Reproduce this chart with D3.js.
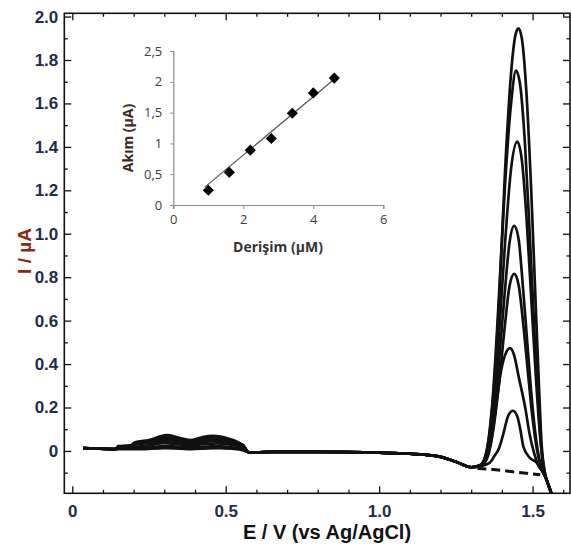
<!DOCTYPE html>
<html>
<head>
<meta charset="utf-8">
<script src="https://d3js.org/d3.v7.min.js"></script>
<style>
body { margin: 0; background: #fff; }
text { font-family: "Liberation Sans", Arial, sans-serif; }
</style>
</head>
<body>
<div id="chart"></div>
<script>
// ---- main voltammograms: E (V) vs I (uA) ----
var startSeg = [[0.036, 0.013], [0.09, 0.011], [0.14, 0.008]];

// hump region 0.15 - 0.58 V, one list per curve
var bumpSeg = [
  [[0.15,0.022],[0.19,0.026],[0.205,0.04],[0.25,0.05],[0.308,0.073],[0.345,0.062],[0.384,0.05],[0.42,0.062],[0.46,0.069],[0.50,0.06],[0.54,0.04],[0.557,0.027],[0.575,-0.006]],
  [[0.15,0.02],[0.19,0.024],[0.205,0.037],[0.25,0.046],[0.305,0.063],[0.345,0.055],[0.384,0.045],[0.42,0.055],[0.465,0.061],[0.50,0.054],[0.54,0.036],[0.557,0.025],[0.575,-0.006]],
  [[0.15,0.018],[0.19,0.022],[0.205,0.033],[0.25,0.041],[0.305,0.055],[0.345,0.048],[0.384,0.04],[0.42,0.048],[0.46,0.053],[0.50,0.047],[0.54,0.032],[0.557,0.022],[0.575,-0.006]],
  [[0.15,0.016],[0.19,0.02],[0.21,0.03],[0.25,0.036],[0.305,0.046],[0.345,0.04],[0.384,0.034],[0.42,0.04],[0.46,0.045],[0.50,0.04],[0.54,0.028],[0.557,0.02],[0.575,-0.006]],
  [[0.15,0.013],[0.2,0.018],[0.25,0.026],[0.30,0.036],[0.345,0.031],[0.384,0.026],[0.43,0.032],[0.47,0.035],[0.51,0.03],[0.54,0.022],[0.557,0.015],[0.575,-0.006]],
  [[0.15,0.01],[0.2,0.012],[0.25,0.016],[0.30,0.022],[0.345,0.02],[0.384,0.016],[0.43,0.02],[0.47,0.022],[0.51,0.018],[0.55,0.01],[0.575,-0.006]],
  [[0.15,0.008],[0.22,0.008],[0.30,0.013],[0.35,0.011],[0.39,0.008],[0.44,0.012],[0.48,0.013],[0.52,0.01],[0.555,0.004],[0.575,-0.006]]
];

var midSeg = [[0.6,-0.007],[0.65,-0.004],[0.8,-0.004],[1.0,-0.008],[1.1,-0.013],[1.17,-0.02],[1.2,-0.027],[1.25,-0.05]];

// oxidation peaks, one list per curve
var peakSeg = [
  [[1.30,-0.075],[1.33,-0.065],[1.35,-0.005],[1.37,0.22],[1.39,0.66],[1.41,1.28],[1.43,1.74],[1.445,1.92],[1.454,1.946],[1.465,1.90],[1.48,1.65],[1.495,1.22],[1.51,0.68],[1.52,0.33],[1.53,0.02],[1.54,-0.10],[1.55,-0.15],[1.565,-0.21]],
  [[1.30,-0.075],[1.33,-0.065],[1.35,0.0],[1.37,0.24],[1.39,0.70],[1.41,1.22],[1.43,1.60],[1.446,1.751],[1.46,1.68],[1.475,1.42],[1.49,1.02],[1.505,0.58],[1.52,0.18],[1.535,-0.08],[1.55,-0.15],[1.565,-0.21]],
  [[1.30,-0.075],[1.33,-0.066],[1.35,-0.01],[1.37,0.18],[1.39,0.52],[1.41,0.95],[1.43,1.30],[1.45,1.424],[1.465,1.34],[1.48,1.08],[1.495,0.72],[1.51,0.36],[1.525,0.06],[1.54,-0.10],[1.55,-0.15],[1.565,-0.21]],
  [[1.30,-0.075],[1.33,-0.067],[1.35,-0.02],[1.37,0.12],[1.39,0.40],[1.41,0.74],[1.425,0.96],[1.44,1.036],[1.455,0.97],[1.465,0.82],[1.48,0.55],[1.495,0.28],[1.51,0.07],[1.525,-0.06],[1.545,-0.13],[1.565,-0.21]],
  [[1.30,-0.075],[1.33,-0.068],[1.35,-0.03],[1.37,0.08],[1.39,0.30],[1.41,0.58],[1.425,0.76],[1.44,0.815],[1.455,0.76],[1.47,0.58],[1.485,0.36],[1.50,0.15],[1.515,0.0],[1.53,-0.08],[1.545,-0.13],[1.565,-0.21]],
  [[1.30,-0.075],[1.33,-0.069],[1.35,-0.04],[1.365,0.04],[1.38,0.20],[1.395,0.35],[1.41,0.44],[1.427,0.473],[1.44,0.44],[1.455,0.34],[1.476,0.20],[1.49,0.08],[1.505,-0.01],[1.52,-0.07],[1.535,-0.10],[1.55,-0.15],[1.565,-0.21]],
  [[1.30,-0.075],[1.33,-0.07],[1.36,-0.055],[1.375,-0.025],[1.39,0.01],[1.405,0.08],[1.42,0.16],[1.436,0.185],[1.45,0.16],[1.46,0.10],[1.47,0.02],[1.49,-0.03],[1.514,-0.055],[1.53,-0.09],[1.545,-0.13],[1.565,-0.21]]
];

var blankSeg = [[1.32,-0.08],[1.37,-0.085],[1.43,-0.095],[1.48,-0.103],[1.525,-0.11]];

var xMajor = [0, 0.5, 1.0, 1.5];
var xLabels = ["0", "0.5", "1.0", "1.5"];
var xMinor = [0.1,0.2,0.3,0.4,0.6,0.7,0.8,0.9,1.1,1.2,1.3,1.4,1.6];
var yMajor = [0,0.2,0.4,0.6,0.8,1.0,1.2,1.4,1.6,1.8,2.0];
var yLabels = ["0","0.2","0.4","0.6","0.8","1.0","1.2","1.4","1.6","1.8","2.0"];
var yMinor = [-0.1,0.1,0.3,0.5,0.7,0.9,1.1,1.3,1.5,1.7,1.9];

// ---- inset: calibration ----
var concX = [1.0, 1.6, 2.2, 2.8, 3.4, 4.0, 4.6];
var currY = [0.24, 0.53, 0.89, 1.08, 1.49, 1.82, 2.06];
var trendX = [0.9, 4.7];
var trendY = [0.29, 2.09];
var inXTicks = [0, 2, 4, 6];
var inYTicks = [0, 0.5, 1, 1.5, 2, 2.5];
var inYLabels = ["0", "0,5", "1", "1,5", "2", "2,5"];

var W = 571, H = 546;
var svg = d3.select("#chart").append("svg").attr("width", W).attr("height", H);
svg.append("rect").attr("width", W).attr("height", H).attr("fill", "#fff");

var x = d3.scaleLinear().domain([-0.026, 1.622]).range([64.3, 570]);
var y = d3.scaleLinear().domain([-0.195, 2.015]).range([493.3, 13.3]);

svg.append("clipPath").attr("id", "plotclip")
  .append("rect").attr("x", 64.3).attr("y", 13.3).attr("width", 570 - 64.3).attr("height", 480);

var line = d3.line().x(function(d){ return x(d[0]); }).y(function(d){ return y(d[1]); })
  .curve(d3.curveMonotoneX);

var curves = svg.append("g").attr("clip-path", "url(#plotclip)");
for (var i = 0; i < peakSeg.length; i++) {
  var pts = startSeg.concat(bumpSeg[i], midSeg, peakSeg[i]);
  curves.append("path")
    .attr("d", line(pts))
    .attr("fill", "none")
    .attr("stroke", "#111")
    .attr("stroke-width", 2.7)
    .attr("stroke-linejoin", "round");
}
curves.append("path")
  .attr("d", line(blankSeg))
  .attr("fill", "none")
  .attr("stroke", "#111")
  .attr("stroke-width", 3)
  .attr("stroke-dasharray", "9,5");

// ticks on all four sides, pointing inward
var labelColor = "#1e2b4a";
function addAxis(gen, tr, vals, size, fmt, pad) {
  var g = svg.append("g").attr("transform", tr)
    .call(gen.tickValues(vals).tickSize(size).tickPadding(pad || 3).tickFormat(fmt));
  g.select(".domain").remove();
  g.selectAll("line").attr("stroke", "#111").attr("stroke-width", 1.3);
  return g;
}
var blank = function(){ return ""; };
var gx = addAxis(d3.axisBottom(x), "translate(0,493.3)", xMajor, -7, function(d, i){ return xLabels[i]; }, 12);
addAxis(d3.axisBottom(x), "translate(0,493.3)", xMinor, -3.5, blank);
addAxis(d3.axisTop(x), "translate(0,13.3)", xMajor, -7, blank);
addAxis(d3.axisTop(x), "translate(0,13.3)", xMinor, -3.5, blank);
var gy = addAxis(d3.axisLeft(y), "translate(64.3,0)", yMajor, -7, function(d, i){ return yLabels[i]; }, 6);
addAxis(d3.axisLeft(y), "translate(64.3,0)", yMinor, -3.5, blank);
addAxis(d3.axisRight(y), "translate(570,0)", yMajor, -7, blank);
addAxis(d3.axisRight(y), "translate(570,0)", yMinor, -3.5, blank);

[gx, gy].forEach(function(g){
  g.selectAll("text")
    .attr("fill", labelColor)
    .style("font-size", "17px")
    .style("font-weight", "bold")
    .style("font-family", "'Liberation Sans', Arial, sans-serif");
});

svg.append("rect")
  .attr("x", 64.3).attr("y", 13.3).attr("width", 570 - 64.3).attr("height", 480)
  .attr("fill", "none").attr("stroke", "#111").attr("stroke-width", 1.6);

svg.append("text")
  .attr("x", 327).attr("y", 539)
  .attr("text-anchor", "middle")
  .style("font-size", "20px").style("font-weight", "bold")
  .attr("fill", "#111")
  .text("E / V (vs Ag/AgCl)");

svg.append("text")
  .attr("transform", "translate(31,251) rotate(-90)")
  .attr("text-anchor", "middle")
  .style("font-size", "19px").style("font-weight", "bold")
  .attr("fill", "#8a2a12")
  .text("I / µA");

// ---- inset ----
var ix = d3.scaleLinear().domain([0, 6]).range([173.3, 383.3]);
var iy = d3.scaleLinear().domain([0, 2.5]).range([205, 51]);
var inset = svg.append("g");

var iax = inset.append("g").attr("transform", "translate(0,205)")
  .call(d3.axisBottom(ix).tickValues(inXTicks).tickSize(4).tickPadding(6).tickFormat(d3.format("d")));
var iay = inset.append("g").attr("transform", "translate(173.3,0)")
  .call(d3.axisLeft(iy).tickValues(inYTicks).tickSize(3).tickPadding(8).tickFormat(function(d, i){ return inYLabels[i]; }));
[iax, iay].forEach(function(g){
  g.select(".domain").attr("stroke", "#8c8c8c").attr("stroke-width", 1.2);
  g.selectAll("line").attr("stroke", "#8c8c8c");
  g.selectAll("text").attr("fill", "#3d3d3d")
    .style("font-size", "13px")
    .style("font-family", "'Open Sans', 'Liberation Sans', sans-serif");
});

inset.append("line")
  .attr("x1", ix(trendX[0])).attr("y1", iy(trendY[0]))
  .attr("x2", ix(trendX[1])).attr("y2", iy(trendY[1]))
  .attr("stroke", "#555").attr("stroke-width", 1.2);

var diamond = d3.symbol().type(d3.symbolSquare).size(62);
inset.selectAll(".pt").data(concX).enter().append("path")
  .attr("class", "pt")
  .attr("d", diamond)
  .attr("transform", function(d, i){ return "translate(" + ix(d) + "," + iy(currY[i]) + ") rotate(45)"; })
  .attr("fill", "#000");

inset.append("text")
  .attr("x", 278).attr("y", 251.5)
  .attr("text-anchor", "middle")
  .style("font-size", "14px").style("font-weight", "bold")
  .style("font-family", "'Open Sans', 'Liberation Sans', sans-serif")
  .attr("fill", "#333")
  .text("Derişim (µM)");

inset.append("text")
  .attr("transform", "translate(133,138) rotate(-90)")
  .attr("text-anchor", "middle")
  .style("font-size", "14px").style("font-weight", "bold")
  .style("font-family", "'Open Sans', 'Liberation Sans', sans-serif")
  .attr("fill", "#3b2a20")
  .text("Akım (µA)");
</script>
</body>
</html>
